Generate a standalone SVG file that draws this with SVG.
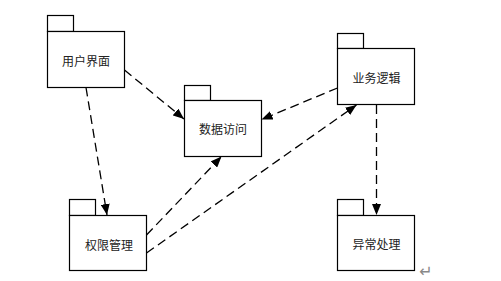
<svg xmlns="http://www.w3.org/2000/svg" width="501" height="281" viewBox="0 0 501 281">
<style>
.box{fill:#fff;stroke:#000;stroke-width:1.2}
.lbl{font-family:"Noto Sans CJK SC","Liberation Sans",sans-serif;font-size:12px;fill:#222;text-anchor:middle;dominant-baseline:central}
.dep{fill:none;stroke:#000;stroke-width:1.3;stroke-dasharray:9 5;marker-end:url(#ah)}
</style>
<defs>
<marker id="ah" viewBox="0 0 11 9" refX="11" refY="4.5" markerWidth="11" markerHeight="9" markerUnits="userSpaceOnUse" orient="auto">
<path d="M0,0 L11,4.5 L0,9 z" fill="#000"/>
</marker>
</defs>
<rect width="501" height="281" fill="#fff"/>
<g id="ui">
<rect class="box" x="47.5" y="15.5" width="26" height="16"/>
<rect class="box" x="47.5" y="31.5" width="77" height="56"/>
<text class="lbl" x="86" y="60">用户界面</text>
</g>
<g id="data">
<rect class="box" x="184.5" y="85.5" width="26" height="15"/>
<rect class="box" x="184.5" y="100.5" width="77" height="56"/>
<text class="lbl" x="223" y="128">数据访问</text>
</g>
<g id="logic">
<rect class="box" x="337.5" y="33.5" width="26" height="15"/>
<rect class="box" x="337.5" y="48.5" width="77" height="56"/>
<text class="lbl" x="376.5" y="77">业务逻辑</text>
</g>
<g id="auth">
<rect class="box" x="69.5" y="199.5" width="26" height="16"/>
<rect class="box" x="69.5" y="215.5" width="77" height="55"/>
<text class="lbl" x="109" y="244">权限管理</text>
</g>
<g id="err">
<rect class="box" x="337.5" y="199.5" width="26" height="16"/>
<rect class="box" x="337.5" y="215.5" width="77" height="55"/>
<text class="lbl" x="376.5" y="243">异常处理</text>
</g>
<g id="connectors">
<path class="dep" d="M124.5,70 L184,119"/>
<path class="dep" d="M86,87.5 L107,215"/>
<path class="dep" d="M337.5,88 L261.5,119.5"/>
<path class="dep" d="M146.5,235 L221.5,156.5"/>
<path class="dep" d="M146.5,253 L356.5,105"/>
<path class="dep" d="M376.5,105 L376.5,215"/>
</g>
<text x="426" y="270" font-family="'Noto Sans CJK SC','DejaVu Sans',sans-serif" font-size="16" fill="#888" text-anchor="middle" dominant-baseline="central">↵</text>
</svg>
